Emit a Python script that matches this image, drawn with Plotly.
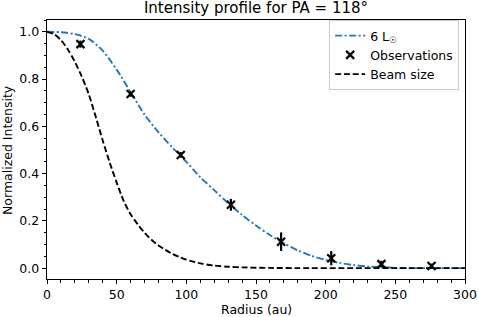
import plotly.graph_objects as go

# Observations
obs_radius = [24, 60, 96, 132, 168, 204, 240, 276]
obs_intensity = [0.948, 0.737, 0.479, 0.268, 0.112, 0.042, 0.017, 0.009]
obs_error = [0.015, 0.012, 0.012, 0.025, 0.039, 0.030, 0.014, 0.010]

# Model profile (6 L_sun)
model_radius = [0, 10, 20, 30, 40, 50, 60, 70, 80, 90, 100, 110, 120, 130, 140, 150,
                160, 170, 180, 190, 200, 210, 220, 230, 240, 250, 260, 270, 280, 290, 300]
model_intensity = [1.0, 0.998, 0.99, 0.97, 0.92, 0.84, 0.745, 0.65, 0.575, 0.51, 0.45,
                   0.385, 0.33, 0.275, 0.225, 0.18, 0.14, 0.105, 0.075, 0.052, 0.035,
                   0.022, 0.013, 0.007, 0.004, 0.001, 0.0, 0.0, 0.0, 0.0, 0.0]

# Beam profile
beam_radius = [0, 5, 10, 15, 20, 25, 30, 35, 40, 45, 50, 55, 60, 65, 70, 75, 80, 85,
               90, 95, 100, 110, 120, 130, 140, 160, 180, 220, 260, 300]
beam_intensity = [1.0, 0.99, 0.965, 0.925, 0.873, 0.81, 0.735, 0.64, 0.54, 0.447, 0.362,
                  0.285, 0.228, 0.186, 0.15, 0.12, 0.096, 0.077, 0.06, 0.047, 0.036,
                  0.02, 0.011, 0.006, 0.003, 0.001, 0.0, 0.0, 0.0, 0.0]

x_ticks = [0, 50, 100, 150, 200, 250, 300]
y_ticks = [0.0, 0.2, 0.4, 0.6, 0.8, 1.0]

FONT = "DejaVu Sans"
FS = 12.5

fig = go.Figure()
fig.add_trace(go.Scatter(
    x=model_radius, y=model_intensity, mode="lines", name="6 L<sub>☉</sub>",
    line=dict(color="#1f77b4", width=1.9, dash="7px,2.5px,2px,2.5px", shape="spline", smoothing=0.8),
))
fig.add_trace(go.Scatter(
    x=obs_radius, y=obs_intensity, mode="markers", name="Observations",
    marker=dict(symbol="x-thin", size=8, color="black", line=dict(color="black", width=2.2)),
    error_y=dict(type="data", array=obs_error, visible=True, color="black", thickness=2.2, width=0),
))
fig.add_trace(go.Scatter(
    x=beam_radius, y=beam_intensity, mode="lines", name="Beam size",
    line=dict(color="black", width=1.9, dash="6px,2.8px", shape="spline", smoothing=0.8),
))

axis_common = dict(
    showline=True, linecolor="black", linewidth=1, mirror=True,
    ticks="outside", ticklen=4.4, tickwidth=1, tickcolor="black",
    showgrid=False, zeroline=False, automargin=False,
    tickfont=dict(family=FONT, size=FS, color="black"),
)

fig.update_xaxes(
    range=[0, 300], tickvals=x_ticks,
    minor=dict(dtick=10, ticks="outside", ticklen=2.5, tickcolor="black", tickwidth=1),
    **axis_common,
)
fig.update_yaxes(
    range=[-0.046, 1.05], tickvals=y_ticks, tickformat=".1f",
    minor=dict(dtick=0.05, ticks="outside", ticklen=2.5, tickcolor="black", tickwidth=1),
    **axis_common,
)

fig.update_layout(
    width=478, height=317,
    margin=dict(l=47, r=13, t=20, b=38),
    plot_bgcolor="white", paper_bgcolor="white",
    title=dict(text="Intensity profile for PA = 118°", xref="paper", x=0.5, xanchor="center",
               yref="container", y=0.975, yanchor="middle",
               font=dict(family=FONT, size=15, color="black")),
    legend=dict(x=0.986, y=1.0, xanchor="right", yanchor="top",
                bordercolor="#cccccc", borderwidth=1, bgcolor="rgba(255,255,255,0.8)",
                font=dict(family=FONT, size=FS, color="black"),
                itemwidth=30, tracegroupgap=0),
    showlegend=True,
    annotations=[
        dict(text="Radius (au)", xref="paper", yref="paper", x=0.5, y=-0.118,
             xanchor="center", yanchor="middle", showarrow=False,
             font=dict(family=FONT, size=FS, color="black")),
        dict(text="Normalized Intensity", xref="paper", yref="paper", x=-0.0945, y=0.5,
             xanchor="center", yanchor="middle", textangle=-90, showarrow=False,
             font=dict(family=FONT, size=FS, color="black")),
    ],
)

fig.write_html(
    "out.html",
    config={"displayModeBar": False},
    post_script="document.body.style.margin='0';document.body.style.padding='0';"
                "document.body.style.overflow='hidden';",
)
